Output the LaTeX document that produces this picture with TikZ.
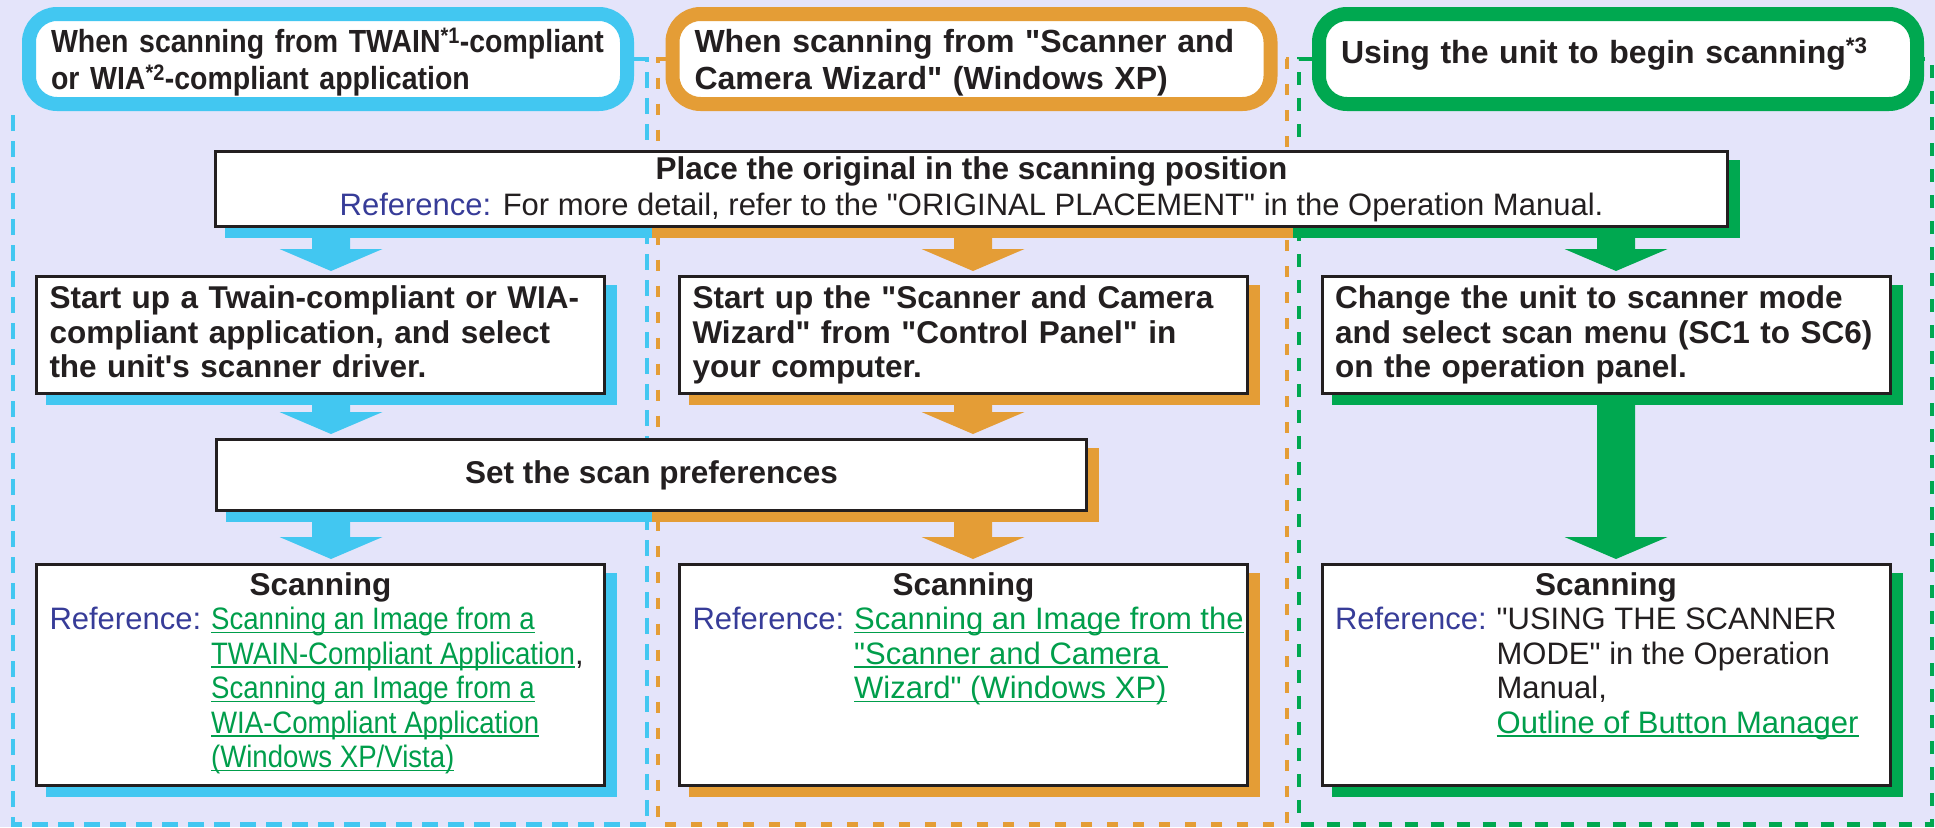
\documentclass[tikz,border=0pt]{standalone}
\usepackage{fontspec}
\setmainfont{Liberation Sans}[Ligatures=TeXOff]
\newfontfamily\narrowsans{Liberation Sans}[FakeStretch=0.89, Ligatures=TeXOff]
\usetikzlibrary{calc, backgrounds}

\definecolor{pagebg}{RGB}{228,228,250}
\definecolor{scanblue}{RGB}{66,199,241}
\definecolor{scanorange}{RGB}{228,157,54}
\definecolor{scangreen}{RGB}{0,168,80}
\definecolor{refblue}{RGB}{55,60,152}
\definecolor{linkgreen}{RGB}{0,158,75}
\definecolor{boxline}{RGB}{35,31,32}

\tikzstyle{header} = [rectangle, rounded corners=28pt, line width=14pt, fill=white, text=boxline, minimum width=598pt, minimum height=90pt, inner xsep=22pt, text width=554pt, align=left, text height=31pt, text depth=44pt, font=\fontsize{32}{37}\selectfont\bfseries]
\tikzstyle{stepbox} = [rectangle, draw=boxline, line width=3pt, fill=white, text=boxline, minimum width=568pt, minimum height=117pt, inner xsep=13pt, text width=542pt, align=left, text height=23.5pt, text depth=76pt, font=\fontsize{31.5}{34.5}\selectfont\bfseries]
\tikzstyle{widebox} = [rectangle, draw=boxline, line width=3pt, fill=white, text=boxline, align=center, font=\fontsize{31}{36}\selectfont]
\tikzstyle{scanbox} = [rectangle, draw=boxline, line width=3pt, fill=white, text=boxline, minimum width=568pt, minimum height=221pt, inner xsep=13pt, inner ysep=8pt, font=\fontsize{31}{34.5}\selectfont]
\tikzstyle{framedash} = [line width=4.5pt]

\newcommand{\lnk}[1]{{\color{linkgreen}\setbox0\hbox{#1}\rlap{\rule[-3.5pt]{\wd0}{1.6pt}}\box0}}
\newcommand{\nlnk}[1]{\lnk{\narrowsans #1}}
\newcommand{\scanpanel}[1]{\begin{minipage}[t][205pt][t]{542pt}\centering{\fontsize{31.5}{34.5}\selectfont\bfseries Scanning}\par\raggedright
  \begin{tabular}[t]{@{}l@{\hspace{10pt}}l@{}}\textcolor{refblue}{Reference:} & #1\end{tabular}\end{minipage}}
\newcommand{\flowarrow}[4]{\fill[#1] let \p1=(#3.south -| #2), \p2=(#4.north -| #2) in
  (\x1-19pt,\y1) -- (\x1-19pt,\y2+26pt) -- (\x1-51.5pt,\y2+26pt) -- (\x1,\y2+4pt)
  -- (\x1+51.5pt,\y2+26pt) -- (\x1+19pt,\y2+26pt) -- (\x1+19pt,\y1) -- cycle;}
\newcommand{\boxshadow}[2]{\fill[#1] ($(#2.north west)+(11,10)$) rectangle ($(#2.south east)+(11,10)$);}

\begin{document}
\begin{tikzpicture}[x=1pt, y=-1pt]
\useasboundingbox (0,0) rectangle (1935,827);

\node (hdtwain) [header, draw=scanblue, font=\fontsize{32}{37}\selectfont\narrowsans\bfseries] at (328,59) {\mbox{When scanning from TWAIN\textsuperscript{*1}-compliant}\\\mbox{or WIA\textsuperscript{*2}-compliant application}};
\node (hdwizard) [header, draw=scanorange] at (971.5,59) {\mbox{When scanning from "Scanner and}\\\mbox{Camera Wizard" (Windows XP)}};
\node (hdunit) [header, draw=scangreen, text height=23pt, text depth=15pt] at (1618,59) {Using the unit to begin scanning\textsuperscript{*3}};

\node (place) [widebox, minimum width=1512pt, minimum height=75pt] at (971.5,189) {{\bfseries\fontsize{31.5}{36}\selectfont Place the original in the scanning position}\\\textcolor{refblue}{Reference:} For more detail, refer to the "ORIGINAL PLACEMENT" in the Operation Manual.};

\node (twain) [stepbox] at (320.5,335) {Start up a Twain-compliant or WIA-\\compliant application, and select\\the unit's scanner driver.};
\node (wizard) [stepbox] at (963.5,335) {Start up the "Scanner and Camera\\Wizard" from "Control Panel" in\\your computer.};
\node (unitmode) [stepbox] at (1606,335) {Change the unit to scanner mode\\and select scan menu (SC1 to SC6)\\on the operation panel.};

\node (prefs) [widebox, minimum width=870pt, minimum height=71pt, font=\fontsize{31.5}{36}\selectfont\bfseries] at (651.5,475) {Set the scan preferences};

\node (scantwain) [scanbox] at (320.5,675) {\scanpanel{\nlnk{Scanning an Image from a}\\ & \nlnk{TWAIN-Compliant Application},\\ & \nlnk{Scanning an Image from a}\\ & \nlnk{WIA-Compliant Application}\\ & \nlnk{(Windows XP/Vista)}}};
\node (scanwizard) [scanbox] at (963.5,675) {\scanpanel{\lnk{Scanning an Image from the}\\ & \lnk{"Scanner and Camera\ }\\ & \lnk{Wizard" (Windows XP)}}};
\node (scanunit) [scanbox] at (1606,675) {\scanpanel{"USING THE SCANNER\\ & MODE" in the Operation\\ & Manual,\\ & \lnk{Outline of Button Manager}}};

\coordinate (colA) at (331,0);
\coordinate (colB) at (973,0);
\coordinate (colC) at (1616,0);
\coordinate (splitAB) at (652,0);
\coordinate (splitBC) at (1293,0);

\begin{scope}[on background layer]
\fill[pagebg] (0,0) rectangle (1935,827);
\draw[framedash, scanblue, dash pattern=on 16pt off 10pt] (hdtwain.east) -- (647,59) -- (647,824.5) -- (13,824.5) -- (13,111);
\draw[framedash, scanorange, dash pattern=on 11pt off 15pt] (hdwizard.west) -- (658,59) -- (658,824.5) -- (1287,824.5) -- (1287,59) -- (hdwizard.east);
\draw[framedash, scangreen, dash pattern=on 13pt off 13pt] (hdunit.west) -- (1299,59) -- (1299,824.5) -- (1932,824.5) -- (1932,59) -- (hdunit.east);

\fill[scanblue] ($(place.north west)+(11,10)$) rectangle ($(place.south -| splitAB)+(0,10)$);
\fill[scanorange] ($(place.north -| splitAB)+(0,10)$) rectangle ($(place.south -| splitBC)+(0,10)$);
\fill[scangreen] ($(place.north -| splitBC)+(0,10)$) rectangle ($(place.south east)+(11,10)$);
\fill[scanblue] ($(prefs.north west)+(11,10)$) rectangle ($(prefs.south -| splitAB)+(0,10)$);
\fill[scanorange] ($(prefs.north -| splitAB)+(0,10)$) rectangle ($(prefs.south east)+(11,10)$);
\boxshadow{scanblue}{twain}
\boxshadow{scanorange}{wizard}
\boxshadow{scangreen}{unitmode}
\boxshadow{scanblue}{scantwain}
\boxshadow{scanorange}{scanwizard}
\boxshadow{scangreen}{scanunit}

\flowarrow{scanblue}{colA}{place}{twain}
\flowarrow{scanorange}{colB}{place}{wizard}
\flowarrow{scangreen}{colC}{place}{unitmode}
\flowarrow{scanblue}{colA}{twain}{prefs}
\flowarrow{scanorange}{colB}{wizard}{prefs}
\flowarrow{scangreen}{colC}{unitmode}{scanunit}
\flowarrow{scanblue}{colA}{prefs}{scantwain}
\flowarrow{scanorange}{colB}{prefs}{scanwizard}
\end{scope}
\end{tikzpicture}
\end{document}
